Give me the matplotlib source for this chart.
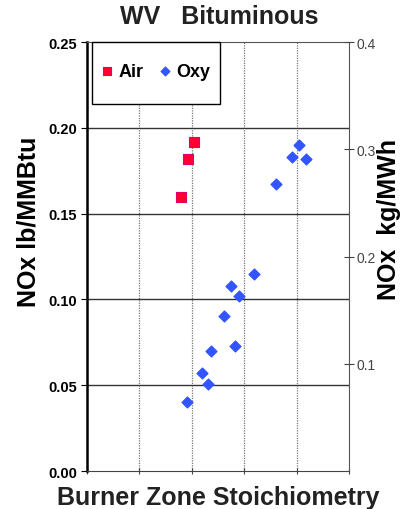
import numpy as np
import matplotlib.pyplot as plt
from matplotlib.patches import Rectangle

plt.rcParams['font.family'] = ['Liberation Sans', 'DejaVu Sans']

# burner zone stoichiometry (x labels hidden in source) and NOx lb/MMBtu
air_sr = [1.004, 0.992, 0.979]
air_nox = [0.192, 0.182, 0.160]
oxy_sr = [1.205, 1.191, 1.218, 1.160, 1.118, 1.074, 1.091, 1.061,
          1.083, 1.036, 1.020, 1.030, 0.990]
oxy_nox = [0.190, 0.183, 0.182, 0.167, 0.115, 0.108, 0.102, 0.0905,
           0.073, 0.070, 0.057, 0.051, 0.040]

x_ticks = [0.8, 0.9, 1.0, 1.1, 1.2, 1.3]
y_ticks = [0.0, 0.05, 0.10, 0.15, 0.20, 0.25]
y2_ticks = [0.1, 0.2, 0.3, 0.4]

fig = plt.figure(figsize=(4, 5.1), dpi=100)
ax = fig.add_axes([0.2175, 0.0745, 0.655, 0.841])

ax.set_xlim(0.8, 1.3)
ax.set_ylim(0, 0.25)
ax.set_xticks(x_ticks)
ax.set_xticklabels([])
ax.set_yticks(y_ticks)
ax.set_yticklabels(['%.2f' % v for v in y_ticks], fontweight='bold', fontsize=10.5)

for v in x_ticks[1:-1]:
    ax.axvline(v, color='#777777', lw=0.9, ls=(0, (1, 1)), zorder=1)
for v in y_ticks[1:-1]:
    ax.axhline(v, color='#333333', lw=1.0, zorder=1)

ax.scatter(air_sr, air_nox, marker='s', s=42, color='#ff0030',
           edgecolors='#e0006a', linewidths=0.8, zorder=3, label='Air')
ax.scatter(oxy_sr, oxy_nox, marker='D', s=30, color='#3355ff',
           edgecolors='#3355ff', zorder=3, label='Oxy')

ax.spines['left'].set_linewidth(1.8)
ax.spines['left'].set_color('black')
ax.spines['bottom'].set_color('#444444')
ax.spines['top'].set_color('#555555')
ax.spines['right'].set_color('#555555')
ax.tick_params(axis='x', direction='inout', length=5, color='#444444')
ax.tick_params(axis='y', direction='out', length=4, pad=3)

ax2 = ax.twinx()
ax2.set_ylim(0, 0.4)
ax2.set_yticks(y2_ticks)
ax2.set_yticklabels([str(v) for v in y2_ticks], fontsize=10, color='#444444')
ax2.tick_params(axis='y', direction='inout', length=7, color='#444444', pad=2)
for s in ax2.spines.values():
    s.set_visible(False)

# legend frame drawn separately so its size matches the source box
ax.add_patch(Rectangle((0.019, 0.855), 0.489, 0.145, transform=ax.transAxes,
                       facecolor='white', edgecolor='black', lw=1.0,
                       zorder=4, clip_on=False))
leg = ax.legend(loc='center', bbox_to_anchor=(0.258, 0.932), ncol=2,
                frameon=False, fontsize=13, handletextpad=0.2,
                columnspacing=0.7, handlelength=0.9, borderpad=0.2,
                markerscale=0.8)
leg.set_zorder(5)
for t in leg.get_texts():
    t.set_fontweight('bold')

fig.text(0.5475, 0.966, 'WV   Bituminous', ha='center', va='center',
         fontsize=18, fontweight='bold', color='#222222')
fig.text(28 / 400, 1 - 222 / 510, 'NOx lb/MMBtu', rotation=90,
         ha='center', va='center', fontsize=18, fontweight='bold')
fig.text(389 / 400, 1 - 220 / 510, 'NOx  kg/MWh', rotation=90,
         ha='center', va='center', fontsize=18, fontweight='bold')
ax.set_xlabel('Burner Zone Stoichiometry', fontsize=18, fontweight='bold',
              color='#222222', labelpad=4)

fig.savefig('out.png', dpi=100)
